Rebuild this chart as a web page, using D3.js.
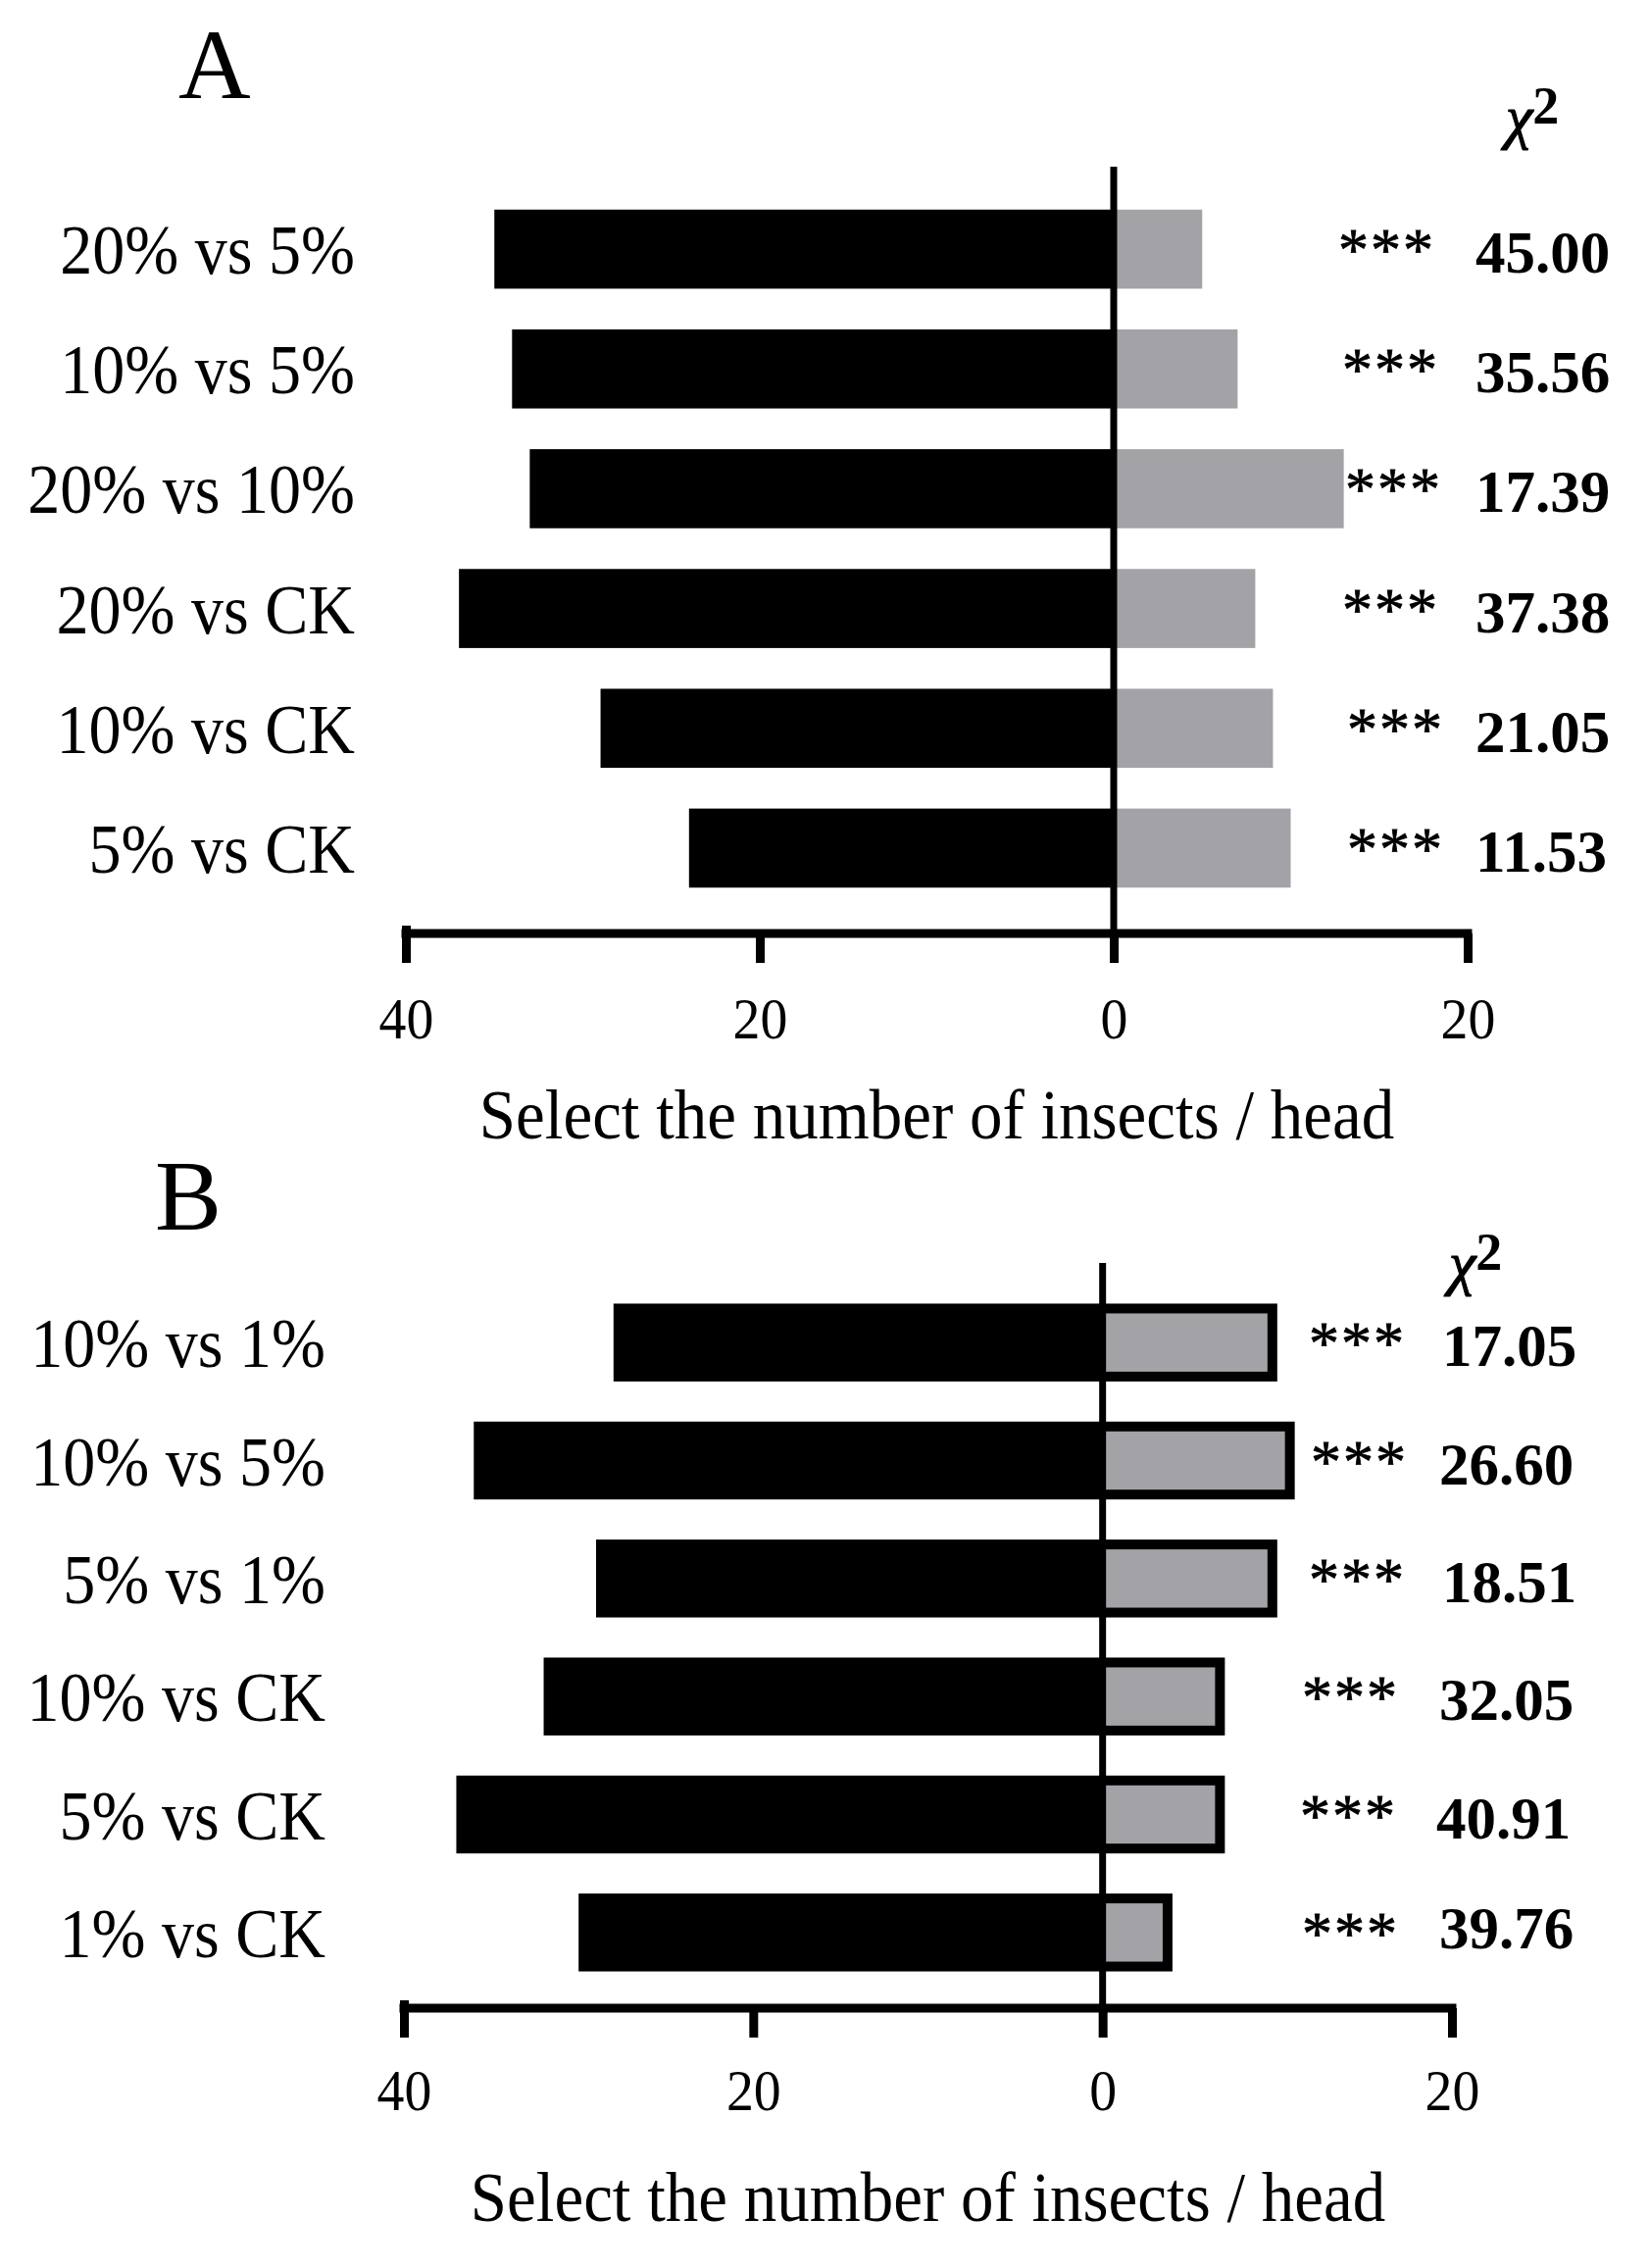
<!DOCTYPE html>
<html>
<head>
<meta charset="utf-8">
<script src="https://cdn.jsdelivr.net/npm/d3@7"></script>
<style>
  html, body { margin: 0; padding: 0; background: #fff; }
  svg { display: block; }
  text { font-family: "Liberation Serif", "Times New Roman", serif; fill: #000; }
</style>
</head>
<body>
<script>
// ---------- data ----------
const categoriesA = ["20% vs 5%", "10% vs 5%", "20% vs 10%", "20% vs CK", "10% vs CK", "5% vs CK"];
const leftValuesA = [35, 34, 33, 37, 29, 24];
const rightValuesA = [5, 7, 13, 8, 9, 10];
const chiValuesA = ["45.00", "35.56", "17.39", "37.38", "21.05", "11.53"];
const sigA = ["***", "***", "***", "***", "***", "***"];

const categoriesB = ["10% vs 1%", "10% vs 5%", "5% vs 1%", "10% vs CK", "5% vs CK", "1% vs CK"];
const leftValuesB = [28, 36, 29, 32, 37, 30];
const rightValuesB = [10, 11, 10, 7, 7, 4];
const chiValuesB = ["17.05", "26.60", "18.51", "32.05", "40.91", "39.76"];
const sigB = ["***", "***", "***", "***", "***", "***"];

const tickValues = [-40, -20, 0, 20];
const tickLabels = ["40", "20", "0", "20"];
const axisTitle = "Select the number of insects / head";

// ---------- drawing ----------
const W = 1682, H = 2313;
const svg = d3.select("body").append("svg").attr("width", W).attr("height", H);

const GRAY = "#a3a2a7";
const SX = 0.93; // slight horizontal condensing of text, as in the reference

function drawPanel(cfg) {
  const g = svg.append("g");
  const x = d3.scaleLinear().domain([-40, 20]).range([cfg.xLeft, cfg.xRight]);
  const y = d3.scaleBand().domain(cfg.cats).range([cfg.yTop, cfg.yBottom])
    .paddingInner(0.34).paddingOuter(0.17);
  const bw = y.bandwidth();

  // panel letter
  g.append("text").attr("x", cfg.letterX).attr("y", cfg.letterY)
    .attr("font-size", 102).text(cfg.letter);

  // chi-square header
  const chi = g.append("text").attr("x", cfg.chiX).attr("y", cfg.chiY)
    .attr("font-size", 62);
  chi.append("tspan").attr("font-style", "italic").attr("stroke", "#000").attr("stroke-width", 1.2).text("χ");
  chi.append("tspan").attr("dy", -14).attr("font-size", 54).attr("font-weight", "bold").text("2");

  // left (black) bars
  g.selectAll("rect.left").data(cfg.cats).join("rect")
    .attr("class", "left")
    .attr("x", (d, i) => x(-cfg.left[i]))
    .attr("y", d => y(d))
    .attr("width", (d, i) => x(0) - x(-cfg.left[i]))
    .attr("height", bw)
    .attr("fill", "#000");

  // right (gray) bars
  if (cfg.bordered) {
    const sw = 10;
    g.selectAll("rect.rightO").data(cfg.cats).join("rect")
      .attr("class", "rightO")
      .attr("x", x(0))
      .attr("y", d => y(d))
      .attr("width", (d, i) => x(cfg.right[i]) - x(0))
      .attr("height", bw)
      .attr("fill", "#000");
    g.selectAll("rect.rightI").data(cfg.cats).join("rect")
      .attr("class", "rightI")
      .attr("x", x(0))
      .attr("y", d => y(d) + sw)
      .attr("width", (d, i) => Math.max(0, x(cfg.right[i]) - x(0) - sw))
      .attr("height", bw - 2 * sw)
      .attr("fill", GRAY);
  } else {
    g.selectAll("rect.right").data(cfg.cats).join("rect")
      .attr("class", "right")
      .attr("x", x(0))
      .attr("y", d => y(d))
      .attr("width", (d, i) => x(cfg.right[i]) - x(0))
      .attr("height", bw)
      .attr("fill", GRAY);
  }

  // category labels
  g.selectAll("text.cat").data(cfg.cats).join("text")
    .attr("class", "cat")
    .attr("transform", d => `translate(${cfg.catX},${y(d) + bw / 2 + 25}) scale(${SX},1)`)
    .attr("text-anchor", "end")
    .attr("font-size", 71)
    .text(d => d);

  // significance stars
  g.selectAll("text.sig").data(cfg.cats).join("text")
    .attr("class", "sig")
    .attr("x", (d, i) => cfg.sigX[i])
    .attr("y", d => y(d) + bw / 2 + 21)
    .attr("font-size", 62)
    .attr("letter-spacing", 2)
    .attr("stroke", "#000").attr("stroke-width", 0.8)
    .text((d, i) => cfg.sig[i]);

  // chi values
  g.selectAll("text.chi").data(cfg.cats).join("text")
    .attr("class", "chi")
    .attr("x", (d, i) => cfg.valX[i])
    .attr("y", (d, i) => y(d) + bw / 2 + 24 + cfg.valDy[i])
    .attr("font-size", 61)
    .attr("font-weight", "bold")
    .text((d, i) => cfg.chi[i]);

  // x axis
  const tickLen = 30;
  const axis = d3.axisBottom(x)
    .tickValues(tickValues)
    .tickFormat((d, i) => tickLabels[i])
    .tickSize(tickLen)
    .tickSizeOuter(0)
    .tickPadding(0);
  const ax = g.append("g").attr("transform", `translate(0,${cfg.axisY})`).call(axis);
  ax.select(".domain").attr("stroke", "#000").attr("stroke-width", 9)
    .attr("d", `M${x(-40) - 4.5},0H${x(20) + 4.5}`);
  ax.selectAll(".tick line").attr("stroke", "#000").attr("stroke-width", 9)
    .attr("y1", (d, i) => (i === 0 ? -8 : 0));
  ax.selectAll(".tick text")
    .attr("font-family", "Liberation Serif, Times New Roman, serif")
    .attr("font-size", 60)
    .attr("fill", "#000")
    .attr("dy", 0)
    .attr("y", 0)
    .attr("transform", `translate(0,${cfg.tickLabelDy}) scale(${SX},1)`);

  // zero line
  g.append("line")
    .attr("x1", x(0)).attr("x2", x(0))
    .attr("y1", cfg.zeroTop).attr("y2", cfg.axisY + tickLen)
    .attr("stroke", "#000").attr("stroke-width", 7);

  // axis title
  g.append("text")
    .attr("transform", `translate(${(x(-40) + x(20)) / 2 + cfg.titleShift},${cfg.titleY}) scale(${SX},1)`)
    .attr("text-anchor", "middle")
    .attr("font-size", 72)
    .text(axisTitle);
}

drawPanel({
  letter: "A", letterX: 182, letterY: 100,
  chiX: 1536, chiY: 140,
  cats: categoriesA, left: leftValuesA, right: rightValuesA,
  chi: chiValuesA, sig: sigA,
  bordered: false,
  xLeft: 414, xRight: 1497,
  yTop: 193, yBottom: 926,
  axisY: 952, tickLabelDy: 107,
  zeroTop: 170,
  catX: 362,
  sigX: [1365, 1369, 1372, 1369, 1374, 1374],
  valX: [1505, 1505, 1505, 1505, 1505, 1505],
  valDy: [0, 0, 0, 0, 0, 0],
  titleY: 1161, titleShift: 0
});

drawPanel({
  letter: "B", letterX: 158, letterY: 1254,
  chiX: 1478, chiY: 1309,
  cats: categoriesB, left: leftValuesB, right: rightValuesB,
  chi: chiValuesB, sig: sigB,
  bordered: true,
  xLeft: 412, xRight: 1481,
  yTop: 1309, yBottom: 2031,
  axisY: 2048, tickLabelDy: 104,
  zeroTop: 1288,
  catX: 332,
  sigX: [1335, 1337, 1335, 1328, 1326, 1328],
  valX: [1471, 1468, 1471, 1468, 1465, 1468],
  valDy: [0, 0, 0, 0, 0, -8],
  titleY: 2265, titleShift: 0
});
</script>
</body>
</html>
